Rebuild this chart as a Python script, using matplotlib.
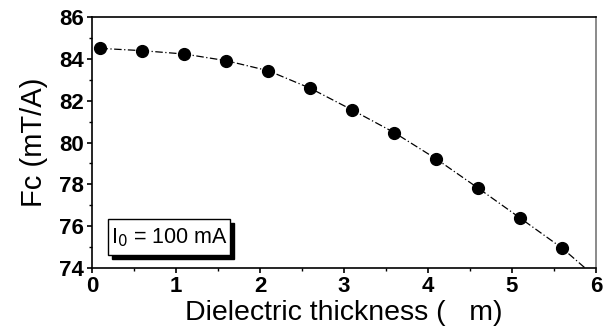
import matplotlib
matplotlib.use('Agg')
import matplotlib.pyplot as plt
from matplotlib.patches import Rectangle
from matplotlib.ticker import MultipleLocator

plt.rcParams['font.family'] = ['Liberation Sans', 'DejaVu Sans']

thickness = [0.1, 0.6, 1.1, 1.6, 2.1, 2.6, 3.1, 3.6, 4.1, 4.6, 5.1, 5.6]
fc = [84.50, 84.39, 84.23, 83.91, 83.43, 82.59, 81.55, 80.47, 79.21, 77.81, 76.38, 74.94]

# guide line runs on past the last point to the bottom axis
line_x = thickness + [5.87]
line_y = fc + [74.0]

fig = plt.figure(figsize=(6.05, 3.27), dpi=100)
ax = fig.add_axes([92/605, 1 - 268/327, 504/605, 251/327])

ax.plot(line_x, line_y, color='black', lw=0.9, ls=(0, (6, 2, 1, 2)), zorder=2)
ax.plot(thickness, fc, 'o', color='black', ms=8.5, zorder=3)

ax.set_xlim(0, 6)
ax.set_ylim(74, 86)
ax.xaxis.set_major_locator(MultipleLocator(1))
ax.xaxis.set_minor_locator(MultipleLocator(0.5))
ax.yaxis.set_major_locator(MultipleLocator(2))
ax.yaxis.set_minor_locator(MultipleLocator(1))
ax.tick_params(which='major', direction='out', length=3.5, width=1.2,
               labelsize=16, pad=2.5)
ax.tick_params(which='minor', direction='out', length=2.2, width=1)
for lab in ax.get_xticklabels() + ax.get_yticklabels():
    lab.set_fontweight('bold')

for side in ['left', 'bottom', 'top']:
    ax.spines[side].set_linewidth(1.2)
ax.spines['right'].set_linewidth(1.2)
ax.spines['right'].set_color('#777777')

ax.set_xlabel('Dielectric thickness (   m)', fontsize=20.5, labelpad=2)
ax.set_ylabel('Fc (mT/A)', fontsize=21, labelpad=8)

# current label in a shadowed box
ax.add_patch(Rectangle((0.040, 0.036), 0.242, 0.143, transform=ax.transAxes,
                       facecolor='black', edgecolor='black', zorder=4))
ax.add_patch(Rectangle((0.032, 0.052), 0.242, 0.143, transform=ax.transAxes,
                       facecolor='white', edgecolor='black', lw=1, zorder=5))
ax.text(0.153, 0.122, r'I$_0$ = 100 mA', transform=ax.transAxes,
        fontsize=15.5, ha='center', va='center', zorder=6)

fig.savefig('out.png', dpi=100)
